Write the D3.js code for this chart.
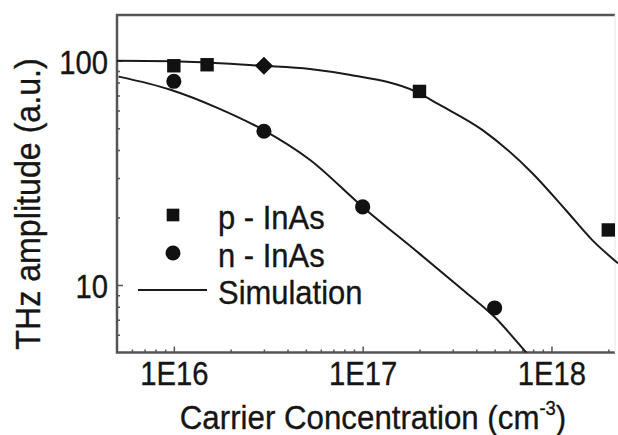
<!DOCTYPE html>
<html>
<head>
<meta charset="utf-8">
<script src="https://cdn.jsdelivr.net/npm/d3@7"></script>
<style>
  body { margin: 0; background: #fff; }
  text { font-family: Arial, "Liberation Sans", sans-serif; fill: #151515; stroke: #151515; stroke-width: 0.35px; }
</style>
</head>
<body>
<script>
// measured points (carrier conc. in cm^-3, THz amplitude a.u.)
const pConc = [1e16, 1.5e16, 2e17, 2e18];
const pAmp = [95, 96, 73, 17.6];
const diaConc = [3e16];
const diaAmp = [95];
const nConc = [1e16, 3e16, 1e17, 5e17];
const nAmp = [81, 48.5, 22.3, 7.9];

// simulation curves
const simPConc = [5e15, 1e16, 2.9e16, 5.25e16, 8.5e16, 1.9e17, 2.55e17, 4.3e17, 7.9e17, 1.19e18, 1.64e18, 2.25e18];
const simPAmp = [100, 99.5, 95, 92, 86.6, 73, 63.7, 49.2, 31.6, 21.6, 15.9, 12.5];
const simNConc = [5.1e15, 9.6e15, 1.7e16, 2.97e16, 5.25e16, 1e17, 2e17, 3.5e17, 5e17, 7.35e17, 8.6e17];
const simNAmp = [85, 74.3, 61.7, 49.2, 36.2, 22.3, 13.8, 9.3, 7.2, 5.0, 4.3];

const xTicks = [1e16, 1e17, 1e18];
const xTickLabels = ["1E16", "1E17", "1E18"];
const yTicks = [10, 100];
const yTickLabels = ["10", "100"];

const legendNames = ["p - InAs", "n - InAs", "Simulation"];

const W = 618, H = 435;
const mLeft = 117, mRight = 615, mTop = 15, mBottom = 352.5;

const svg = d3.select("body").append("svg")
  .attr("width", W)
  .attr("height", H);

const x = d3.scaleLog().domain([5e15, 2.17e18]).range([mLeft, mRight]);
const y = d3.scaleLog().domain([5, 160]).range([mBottom, mTop]);

// font is narrower than Arial, so squeeze text horizontally
function squeeze(sel, k) {
  sel.each(function () {
    const t = d3.select(this);
    const tx = +t.attr("x") || 0, ty = +t.attr("y") || 0;
    const r = t.attr("data-rot");
    t.attr("x", 0).attr("y", 0)
      .attr("transform", `translate(${tx},${ty})` + (r ? ` rotate(${r})` : "") + ` scale(${k},1)`);
  });
}

// minor ticks
const xMinor = [];
for (let e = 15; e <= 18; e++) for (let m = 2; m <= 9; m++) {
  const v = m * Math.pow(10, e);
  if (v > 5e15 && v < 2.17e18) xMinor.push(v);
}
const yMinor = [];
for (let e = 0; e <= 2; e++) for (let m = 2; m <= 9; m++) {
  const v = m * Math.pow(10, e);
  if (v > 5 && v < 160) yMinor.push(v);
}

const axisCol = "#555";

const gx = svg.append("g").attr("transform", `translate(0,${mBottom})`)
  .call(d3.axisBottom(x).tickValues(xMinor).tickSize(-3).tickFormat(""));
const gx2 = svg.append("g").attr("transform", `translate(0,${mBottom})`)
  .call(d3.axisBottom(x).tickValues(xTicks).tickSize(-6).tickPadding(8)
    .tickFormat((d, i) => xTickLabels[i]));
const gy = svg.append("g").attr("transform", `translate(${mLeft},0)`)
  .call(d3.axisLeft(y).tickValues(yMinor).tickSize(-3).tickFormat(""));
const gy2 = svg.append("g").attr("transform", `translate(${mLeft},0)`)
  .call(d3.axisLeft(y).tickValues(yTicks).tickSize(-6).tickPadding(9)
    .tickFormat((d, i) => yTickLabels[i]));

[gx, gx2, gy, gy2].forEach(g => {
  g.select(".domain").remove();
  g.selectAll("line").attr("stroke", axisCol).attr("stroke-width", 1.5);
  g.selectAll("text").attr("font-size", 34).attr("fill", "#151515")
    .style("font-family", "Arial, 'Liberation Sans', sans-serif");
});
gy2.selectAll("text").attr("dy", "0.36em");
squeeze(gx2.selectAll("text"), 0.86);
squeeze(gy2.selectAll("text"), 0.86);

// frame: left, bottom, top, faint right
svg.append("path")
  .attr("d", `M${mRight},${mTop}H${mLeft}V${mBottom}H${mRight}`)
  .attr("fill", "none").attr("stroke", axisCol).attr("stroke-width", 2.5);
svg.append("line")
  .attr("x1", mRight).attr("x2", mRight).attr("y1", mTop).attr("y2", mBottom)
  .attr("stroke", "#e6e6e6").attr("stroke-width", 1);

svg.append("clipPath").attr("id", "clip")
  .append("rect").attr("x", mLeft).attr("y", mTop).attr("width", W - mLeft).attr("height", mBottom - mTop);

const line = d3.line()
  .x(d => x(d[0]))
  .y(d => y(d[1]))
  .curve(d3.curveMonotoneX);

const plot = svg.append("g").attr("clip-path", "url(#clip)");

plot.append("path")
  .datum(d3.zip(simPConc, simPAmp))
  .attr("d", line)
  .attr("fill", "none").attr("stroke", "#1a1a1a").attr("stroke-width", 2);
plot.append("path")
  .datum(d3.zip(simNConc, simNAmp))
  .attr("d", line)
  .attr("fill", "none").attr("stroke", "#1a1a1a").attr("stroke-width", 2);

const sq = d3.symbol().type(d3.symbolSquare).size(180);
const circ = d3.symbol().type(d3.symbolCircle).size(180);
// diamond in the figure is a square on its corner
const dia = d3.symbol().type(d3.symbolSquare).size(165);

svg.selectAll(".p").data(d3.zip(pConc, pAmp)).join("path")
  .attr("class", "p")
  .attr("d", sq)
  .attr("transform", d => `translate(${x(d[0])},${y(d[1])})`)
  .attr("fill", "#111");
svg.selectAll(".dia").data(d3.zip(diaConc, diaAmp)).join("path")
  .attr("class", "dia")
  .attr("d", dia)
  .attr("transform", d => `translate(${x(d[0])},${y(d[1])}) rotate(45)`)
  .attr("fill", "#111");
svg.selectAll(".n").data(d3.zip(nConc, nAmp)).join("path")
  .attr("class", "n")
  .attr("d", circ)
  .attr("transform", d => `translate(${x(d[0])},${y(d[1])})`)
  .attr("fill", "#111");

// legend
const leg = svg.append("g");
const legY = [215, 253, 290];
leg.append("path").attr("d", d3.symbol().type(d3.symbolSquare).size(160))
  .attr("transform", `translate(173,${legY[0]})`).attr("fill", "#111");
leg.append("path").attr("d", d3.symbol().type(d3.symbolCircle).size(175))
  .attr("transform", `translate(173,${legY[1]})`).attr("fill", "#111");
leg.append("line").attr("x1", 138).attr("x2", 207).attr("y1", legY[2]).attr("y2", legY[2])
  .attr("stroke", "#1a1a1a").attr("stroke-width", 2);
leg.selectAll("text").data(legendNames).join("text")
  .attr("x", 218)
  .attr("y", (d, i) => legY[i] + 14)
  .attr("font-size", 34)
  .text(d => d);
squeeze(leg.selectAll("text"), 0.91);

// axis titles
const xt = svg.append("text")
  .attr("x", 373).attr("y", 429)
  .attr("text-anchor", "middle")
  .attr("font-size", 34);
xt.append("tspan").text("Carrier Concentration (cm");
xt.append("tspan").attr("font-size", 20).attr("dy", -14).text("-3");
xt.append("tspan").attr("dy", 14).text(")");
squeeze(xt, 0.92);

const yt = svg.append("text")
  .attr("x", 40).attr("y", 204)
  .attr("data-rot", -90)
  .attr("text-anchor", "middle")
  .attr("font-size", 35)
  .text("THz amplitude (a.u.)");
squeeze(yt, 0.92);
</script>
</body>
</html>
